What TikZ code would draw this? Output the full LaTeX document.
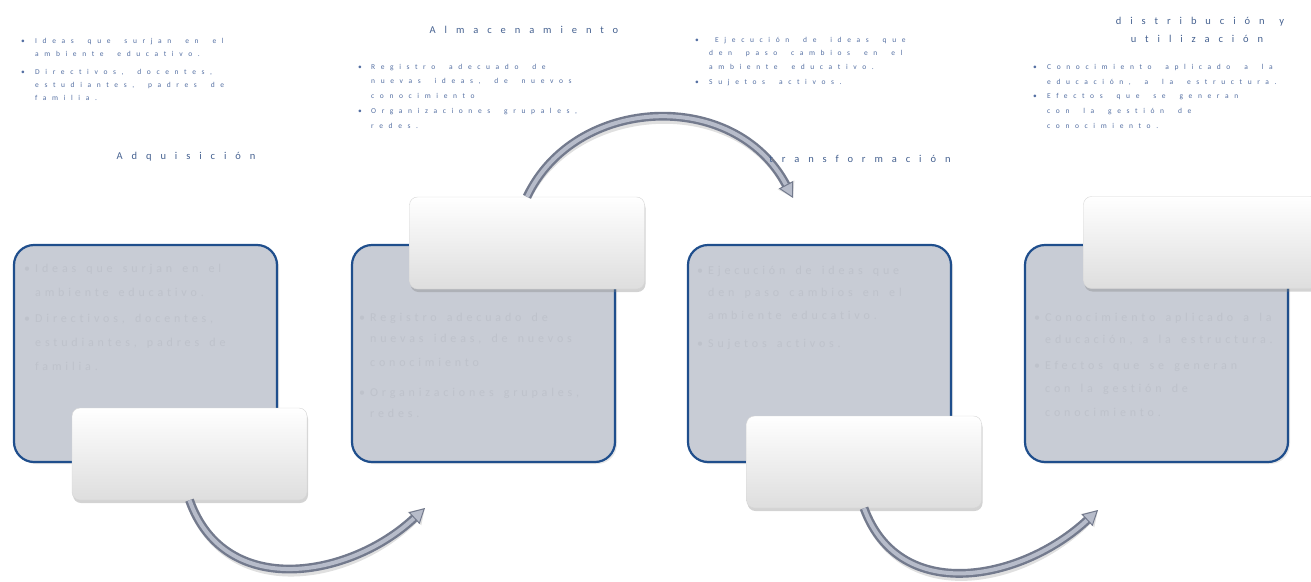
\documentclass[tikz,border=0pt]{standalone}
\usepackage{fontspec}
\setmainfont{Carlito}
\newfontfamily\listfont[LetterSpace=75,WordSpace=1.9,Ligatures=NoCommon]{Carlito}
\newfontfamily\titlefont[LetterSpace=85,WordSpace=1.3,Ligatures=NoCommon]{Carlito}
\newfontfamily\ghostfont[LetterSpace=32,WordSpace=1.55,Ligatures=NoCommon]{Carlito}
\usetikzlibrary{arrows.meta,shadows}

\definecolor{boxfill}{HTML}{C8CCD5}
\definecolor{boxline}{HTML}{1F4E8C}
\definecolor{listblue}{HTML}{546FA2}
\definecolor{titleblue}{HTML}{44608F}
\definecolor{tubedark}{HTML}{737A8D}
\definecolor{tubelight}{HTML}{B7BCCA}
\definecolor{ghost}{HTML}{BEC2CB}

\tikzset{
  bigbox/.style={draw=boxline, line width=2.2pt, fill=boxfill, rounded corners=20pt,
    minimum width=263pt, minimum height=217pt,
    drop shadow={opacity=.2, shadow xshift=2pt, shadow yshift=-2pt}},
  gloss/.style={draw=black!16, rounded corners=8pt, top color=white, middle color=white,
    bottom color=black!13, minimum width=235pt, minimum height=92pt,
    drop shadow={opacity=.35, shadow xshift=1pt, shadow yshift=-3pt}},
  tube/.style={draw=tubedark, line width=2.4pt, double=tubelight, double distance=4pt,
    -{Triangle[length=15pt, width=16pt, line width=1pt, fill=tubelight]}},
  tubeshadow/.style={draw=black, opacity=.12, line width=9pt,
    -{Triangle[length=15pt, width=18pt]}},
  listline/.style={anchor=base west, inner sep=0pt, text=listblue,
    font=\listfont\fontsize{7.5}{9}\selectfont},
  listdot/.style={anchor=base, inner sep=0pt, text=listblue,
    font=\fontsize{7.5}{9}\selectfont},
  steptitle/.style={anchor=base, inner sep=0pt, text=titleblue,
    font=\titlefont\fontsize{10.5}{12}\selectfont},
  ghostline/.style={anchor=base west, inner sep=0pt, text=ghost,
    font=\ghostfont\fontsize{12}{14}\selectfont},
}

\begin{document}
\begin{tikzpicture}[x=1pt,y=-1pt]
\useasboundingbox (0,0) rectangle (1311,581);

% -------------------------------------------------
% Recuadros grandes
% -------------------------------------------------
\foreach \x [count=\i] in {145.5,483.5,819.5,1156.5}
  \node[bigbox] (box\i) at (\x,353.5) {};

% -------------------------------------------------
% Texto tenue dentro de los recuadros
% -------------------------------------------------
\foreach \y/\t [count=\i] in {272/{Ideas que surjan en el}, 296/{ambiente educativo.},
    322/{Directivos, docentes,}, 346/{estudiantes, padres de}, 370/{familia.}}
  \node[ghostline] (ga\i) at (35,\y) {\t};
\foreach \y/\t [count=\i] in {321/{Registro adecuado de}, 342/{nuevas ideas, de nuevos},
    366/{conocimiento}, 396/{Organizaciones grupales,}, 417/{redes.}}
  \node[ghostline] (gb\i) at (370,\y) {\t};
\foreach \y/\t [count=\i] in {274/{Ejecución de ideas que}, 296/{den paso cambios en el},
    319/{ambiente educativo.}, 347/{Sujetos activos.}}
  \node[ghostline] (gc\i) at (708,\y) {\t};
\foreach \y/\t [count=\i] in {321/{Conocimiento aplicado a la}, 343/{educación, a la estructura.},
    369/{Efectos que se generan}, 392/{con la gestión de}, 416/{conocimiento.}}
  \node[ghostline] (gd\i) at (1045,\y) {\t};
\foreach \x/\y [count=\i] in {27/272, 27/322, 362/321, 362/396, 700/274, 700/347, 1037/321, 1037/369}
  \node[listdot, text=ghost, font=\fontsize{12}{14}\selectfont] (gdot\i) at (\x,\y) {\textbullet};

% -------------------------------------------------
% Recuadros brillantes
% -------------------------------------------------
\node[gloss] (w1) at (189.5,454) {};
\node[gloss] (w2) at (527,243) {};
\node[gloss] (w3) at (864,462) {};
\node[gloss] (w4) at (1201,242.5) {};

% -------------------------------------------------
% Flechas
% -------------------------------------------------
\coordinate (tip1) at (425,508);
\coordinate (tip2) at (793,198);
\coordinate (tip3) at (1098,510);

\draw[tubeshadow, xshift=2pt, yshift=-4pt] (w1.south) .. controls (225,600) and (350,578) .. (tip1);
\draw[tubeshadow, xshift=2pt, yshift=-4pt] (w2.north) .. controls (575,95) and (735,88) .. (tip2);
\draw[tubeshadow, xshift=2pt, yshift=-4pt] (w3.south) .. controls (900,606) and (1023,580) .. (tip3);

\draw[tube] (w1.south) .. controls (225,600) and (350,578) .. (tip1);
\draw[tube] (w2.north) .. controls (575,95) and (735,88) .. (tip2);
\draw[tube] (w3.south) .. controls (900,606) and (1023,580) .. (tip3);

% -------------------------------------------------
% Titulos
% -------------------------------------------------
\node[steptitle] (adq) at (186,159) {Adquisición};
\node[steptitle] (alm) at (524,33) {Almacenamiento};
\node[steptitle] (tra) at (860,162) {transformación};
\node[steptitle] (dis) at (1200,24) {distribución y};
\node[steptitle] (uti) at (1197,42) {utilización};

% -------------------------------------------------
% Listas
% -------------------------------------------------
\foreach \y/\t [count=\i] in {43/{Ideas que surjan en el}, 56/{ambiente educativo.},
    74/{Directivos, docentes,}, 87/{estudiantes, padres de}, 100/{familia.}}
  \node[listline] (la\i) at (35,\y) {\t};
\foreach \y/\t [count=\i] in {69/{Registro adecuado de}, 83/{nuevas ideas, de nuevos},
    98/{conocimiento}, 113/{Organizaciones grupales,}, 128/{redes.}}
  \node[listline] (lb\i) at (371,\y) {\t};
\foreach \y/\t/\x [count=\i] in {42/{Ejecución de ideas que}/715, 55/{den paso cambios en el}/709,
    69/{ambiente educativo.}/709, 84/{Sujetos activos.}/709}
  \node[listline] (lc\i) at (\x,\y) {\t};
\foreach \y/\t [count=\i] in {69/{Conocimiento aplicado a la}, 84/{educación, a la estructura.},
    98/{Efectos que se generan}, 113/{con la gestión de}, 128/{conocimiento.}}
  \node[listline] (ld\i) at (1047,\y) {\t};
\foreach \x/\y [count=\i] in {23/43, 23/74, 360/69, 360/113, 697/42, 697/84, 1035/69, 1035/98}
  \node[listdot] (dot\i) at (\x,\y) {\textbullet};

\end{tikzpicture}
\end{document}
